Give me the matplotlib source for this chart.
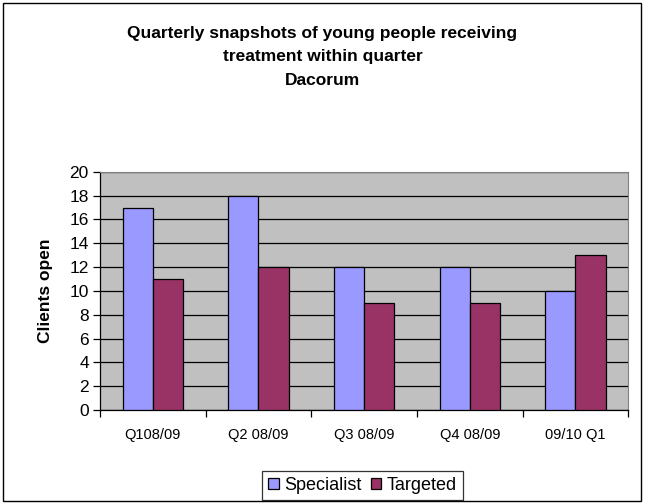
import numpy as np
import matplotlib
matplotlib.use("Agg")
import matplotlib.pyplot as plt
from matplotlib.patches import Rectangle

# Quarterly counts of clients open
quarters = ["Q108/09", "Q2 08/09", "Q3 08/09", "Q4 08/09", "09/10 Q1"]
specialist = [17, 18, 12, 12, 10]
targeted = [11, 12, 9, 9, 13]

plt.rcParams["font.family"] = ["Liberation Sans", "DejaVu Sans"]

fig = plt.figure(figsize=(6.45, 5.04), dpi=100)
fig.patch.set_facecolor("white")
fig.patches.append(Rectangle((0.005, 0.005), 0.989, 0.989, transform=fig.transFigure,
                             fill=False, edgecolor="black", linewidth=1.0))

ax = fig.add_axes([0.155, 0.1865, 0.819, 0.4725])
ax.set_facecolor("#C0C0C0")

x = np.arange(len(quarters))
w = 0.285
ax.bar(x - w / 2, specialist, w, color="#9999FF", edgecolor="black", linewidth=0.9,
       label="Specialist", zorder=3)
ax.bar(x + w / 2, targeted, w, color="#993366", edgecolor="black", linewidth=0.9,
       label="Targeted", zorder=3)

ax.set_xlim(-0.5, len(quarters) - 0.5)
ax.set_ylim(0, 20)
ax.set_yticks(range(0, 21, 2))
ax.yaxis.grid(True, color="black", linewidth=0.9, zorder=1)
ax.set_axisbelow(True)

# category labels centred, tick marks on the boundaries
ax.set_xticks(x)
ax.set_xticklabels(quarters, fontsize=10.5)
ax.tick_params(axis="x", length=0, pad=13)
ax.set_xticks(np.arange(-0.5, len(quarters)), minor=True)
ax.tick_params(axis="x", which="minor", length=5, width=0.9, direction="out")
ax.tick_params(axis="y", labelsize=12.5, length=5, width=0.9, direction="out", pad=3)

for side in ["top", "right"]:
    ax.spines[side].set_color("#808080")
ax.spines["left"].set_linewidth(0.9)
ax.spines["bottom"].set_linewidth(0.9)

ax.set_ylabel("Clients open", fontsize=12.5, fontweight="bold", labelpad=12)

title_lines = ["Quarterly snapshots of young people receiving",
               "treatment within quarter",
               "Dacorum"]
for ty, line in zip([0.934, 0.887, 0.841], title_lines):
    fig.text(0.5, ty, line, ha="center", va="center", fontsize=12.5, fontweight="bold")

leg = fig.legend(loc="center", bbox_to_anchor=(0.562, 0.037), ncol=2, fontsize=13,
                 frameon=True, fancybox=False, edgecolor="black", handlelength=0.6,
                 handleheight=0.6, handletextpad=0.3, columnspacing=0.5,
                 borderpad=0.35)
leg.get_frame().set_linewidth(0.9)

fig.savefig("out.png", dpi=100)
